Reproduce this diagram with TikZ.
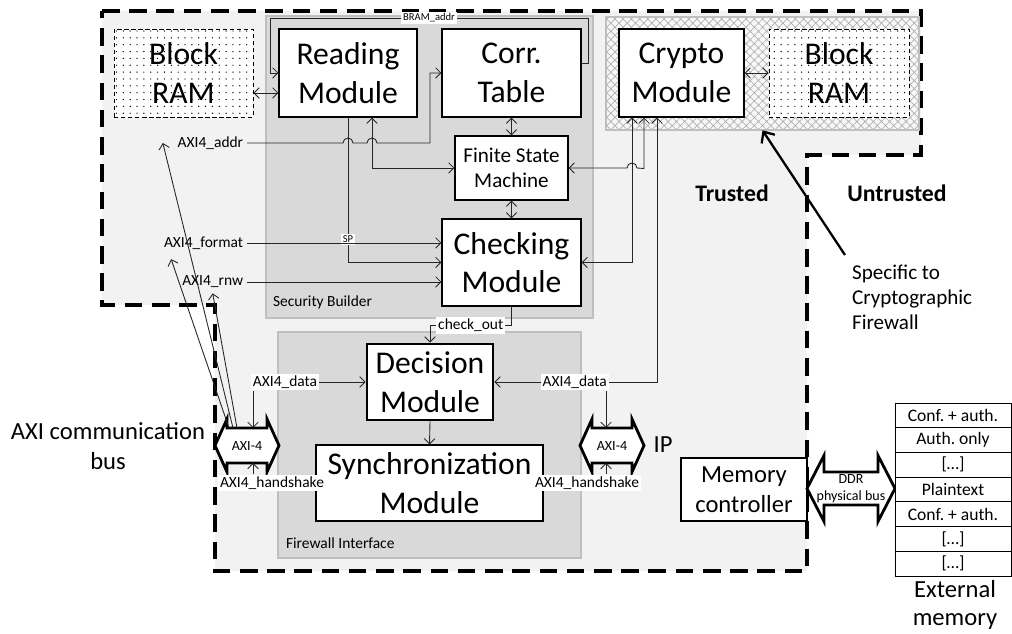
\documentclass[tikz,border=0pt]{standalone}
\usepackage{fontspec}
\setmainfont{Carlito}
\usetikzlibrary{arrows.meta,patterns.meta}
\frenchspacing

\definecolor{trustgray}{HTML}{F2F2F2}
\definecolor{zonegray}{HTML}{D9D9D9}
\definecolor{zoneline}{HTML}{BFBFBF}
\definecolor{hatchgray}{HTML}{B0B0B0}

\begin{document}
\begin{tikzpicture}[x=0.02cm, y=-0.02cm,
	>={Straight Barb[length=3pt,width=6pt]},
	conn/.style={line width=0.5pt, draw=black!85},
	modbox/.style={draw, line width=0.6pt, fill=white, align=center, inner sep=0pt,
		font=\fontsize{18}{22}\selectfont},
	keybox/.style={modbox, line width=1.6pt},
	rambox/.style={draw, line width=0.5pt, dash pattern=on 2.5pt off 1.5pt,
		preaction={fill=white}, pattern={Dots[distance=3.9pt,radius=0.4pt]},
		align=center, inner sep=0pt, font=\fontsize{18}{22}\selectfont},
	zone/.style={draw=zoneline, fill=zonegray, line width=0.8pt},
	hatchzone/.style={draw=zoneline, line width=0.8pt, preaction={fill=white!50!trustgray},
		pattern={Hatch[angle=45,distance=3.3pt,line width=0.4pt]}, pattern color=hatchgray},
	trustline/.style={line width=1.8pt, dash pattern=on 10pt off 5.5pt},
	zonetag/.style={inner sep=1pt, font=\fontsize{8.8}{10}\selectfont},
	sig/.style={inner sep=2pt, font=\fontsize{8.8}{10}\selectfont},
	lbl/.style={fill=white, inner sep=1pt, font=\fontsize{8.8}{10}\selectfont},
	tinylbl/.style={lbl, font=\fontsize{6}{7}\selectfont},
	bus/.style={draw, line width=1.6pt, fill=white, line join=miter},
	busname/.style={inner sep=0pt, align=center, font=\fontsize{8}{9.6}\selectfont},
	big/.style={align=center, inner sep=1pt, font=\fontsize{14}{17}\selectfont},
	zonehead/.style={inner sep=1pt, font=\bfseries\fontsize{13.5}{16}\selectfont},
	note/.style={align=left, inner sep=1pt, font=\fontsize{12}{14.2}\selectfont},
	memrow/.style={draw, line width=0.5pt, fill=white, minimum width=2.32cm,
		minimum height=0.494cm, inner sep=0pt, font=\fontsize{10}{12}\selectfont},
	pointer/.style={line width=1.3pt, -{Straight Barb[length=5pt,width=9pt]}}]

	\useasboundingbox (0,0) rectangle (1012,634);

	% trusted area
	\draw[trustline, fill=trustgray] (102,11) -- (921,11) -- (921,155) -- (807,155)
		-- (807,571) -- (215,571) -- (215,305) -- (102,305) -- cycle;

	% zones
	\path[zone] (266,16) rectangle (593,318);
	\node[zonetag, anchor=west] (sbtag) at (271,302) {Security Builder};
	\path[zone] (278,332) rectangle (581,558);
	\node[zonetag, anchor=west] (fitag) at (284,543) {Firewall Interface};
	\node[hatchzone, minimum width=6.26cm, minimum height=2.26cm] (czone) at (762.5,73.5) {};

	% modules
	\node[rambox, minimum width=2.78cm, minimum height=1.76cm] (bramL) at (183.5,73) {Block\\RAM};
	\node[modbox, minimum width=2.76cm, minimum height=1.76cm] (read) at (348,73) {Reading\\Module};
	\node[modbox, minimum width=2.78cm, minimum height=1.76cm] (corr) at (511.5,73) {Corr.\\Table};
	\node[modbox, minimum width=2.5cm, minimum height=1.76cm] (crypto) at (681.5,73) {Crypto\\Module};
	\node[rambox, minimum width=2.8cm, minimum height=1.76cm] (bramR) at (839,73) {Block\\RAM};
	\node[modbox, font=\fontsize{12}{14.5}\selectfont, minimum width=2.26cm, minimum height=1.28cm] (fsm) at (511.5,168) {Finite State\\Machine};
	\node[modbox, minimum width=2.78cm, minimum height=1.74cm] (check) at (511.5,262.5) {Checking\\Module};
	\node[keybox, minimum width=2.52cm, minimum height=1.52cm] (dec) at (430,382) {Decision\\Module};
	\node[modbox, minimum width=4.54cm, minimum height=1.52cm] (sync) at (429.5,483) {Synchronization\\Module};
	\node[keybox, font=\fontsize{14}{17}\selectfont, minimum width=2.52cm, minimum height=1.26cm] (memctl) at (744,489.5) {Memory\\controller};

	% buses
	\foreach \nm/\xa/\xb/\yc/\hl/\bw/\hw/\xt in
	{axil/215/279/445.5/12/17.5/26.5/253, axir/580/644/445.5/12/17.5/26.5/606, ddr/807/895/488.5/17/16.5/33/851}{
		\draw[bus] (\xa,\yc) -- (\xa+\hl,\yc-\hw) -- (\xa+\hl,\yc-\bw) -- (\xb-\hl,\yc-\bw)
			-- (\xb-\hl,\yc-\hw) -- (\xb,\yc) -- (\xb-\hl,\yc+\hw) -- (\xb-\hl,\yc+\bw)
			-- (\xa+\hl,\yc+\bw) -- (\xa+\hl,\yc+\hw) -- cycle;
		\coordinate (\nm) at ({(\xa+\xb)/2},\yc);
		\coordinate (\nm-n) at (\xt,\yc-\bw);
		\coordinate (\nm-s) at (\xt,\yc+\bw);
	}
	\node[busname] (axiltext) at (axil) {AXI-4};
	\node[busname] (axirtext) at (axir) {AXI-4};
	\node[busname] (ddrtext) at (ddr) {DDR\\physical bus};

	% external memory
	\foreach \t [count=\i] in {Conf. + auth., Auth. only, {[…]}, Plaintext, Conf. + auth., {[…]}, {[…]}}{
		\node[memrow] (mem\i) at (953,{403+24.71*(\i-0.5)}) {\t};
	}

	% texts
	\node[big] (axibus) at (108,446) {AXI communication\\bus};
	\node[big] (ip) at (663,445) {IP};
	\node[big, font=\fontsize{14}{16}\selectfont] (extmem) at (955,605) {External\\memory};
	\node[zonehead] (trusted) at (732,193) {Trusted};
	\node[zonehead] (untrusted) at (897,193) {Untrusted};
	\node[note, anchor=north west] (spec) at (850,263) {Specific to\\Cryptographic\\Firewall};

	% signal names
	\node[sig, anchor=east] (laddr) at (247,143) {AXI4\_addr};
	\node[sig, anchor=east] (lfmt) at (247,243) {AXI4\_format};
	\node[sig, anchor=east] (lrnw) at (247,282) {AXI4\_rnw};
	\node[lbl] (ldata) at (285,382) {AXI4\_data};
	\node[lbl] (lhs) at (272,483) {AXI4\_handshake};
	\node[lbl] (rhs) at (587,483) {AXI4\_handshake};

	% connections
	\draw[conn,<->] ([yshift=-0.4cm]bramL.east) -- ([yshift=-0.4cm]read.west);
	\draw[conn,<->] (crypto.east) -- (bramR.west);
	\draw[conn,->] ([yshift=0.2cm]corr.east) -| (588,18) -- node[tinylbl]{BRAM\_addr} (270,18) |- (read.west);
	\draw[conn,<->] (corr.south) -- (fsm.north);
	\draw[conn,<->] (fsm.south) -- (check.north);
	\draw[conn,->] (read.south) |- node[tinylbl, pos=0.42]{SP} (check.west);
	\draw[conn,<->] ([xshift=0.48cm]read.south) |- (fsm.west);
	\draw[conn,->] (laddr.east) -- (343,143) arc[start angle=180,end angle=0,radius=0.1cm]
		-- (367,143) arc[start angle=180,end angle=0,radius=0.1cm] -- (430,143) |- (corr.west);
	\draw[conn,->] (lfmt.east) -- (lfmt.east -| check.west);
	\draw[conn,->] (lrnw.east) -- (lrnw.east -| check.west);
	\draw[conn,<->] ([xshift=-0.99cm]crypto.south) |- (check.east);
	\draw[conn,<->] ([xshift=-0.75cm]crypto.south) -- ++(0,51) -- (637,168)
		arc[start angle=0,end angle=180,radius=0.1cm] -- (fsm.east);
	\draw[conn,<->] ([xshift=-0.49cm]crypto.south) |- node[lbl, pos=0.753] (rdata) {AXI4\_data} (dec.east);
	\draw[conn,->] (ldata.east) -- (dec.west);
	\draw[conn,->] (ldata.south -| axil-n) -- (axil-n);
	\draw[conn,->] (lhs.north -| axil-s) -- (axil-s);
	\draw[conn,->] (rdata.south -| axir-n) -- (axir-n);
	\draw[conn,->] (rhs.north -| axir-s) -- (axir-s);
	\draw[conn,->] (check.south) -- ++(0,19) -| node[lbl, pos=0.25] (chk) {check\_out} (dec.north);
	\draw[conn,->] (dec.south) -- (sync.north);
	\draw[conn,->] ([xshift=-0.4cm]axil-n) -- ([xshift=-0.22cm]laddr.west);
	\draw[conn,->] ([xshift=-0.48cm]axil-n) -- ([shift={(0.22cm,-0.12cm)}]lfmt.south west);
	\draw[conn,->] ([xshift=-0.32cm]axil-n) -- ([yshift=-0.03cm]lrnw.south);
	\draw[pointer] ([shift={(-0.1cm,0.16cm)}]spec.north west) -- (czone.south);
\end{tikzpicture}
\end{document}
